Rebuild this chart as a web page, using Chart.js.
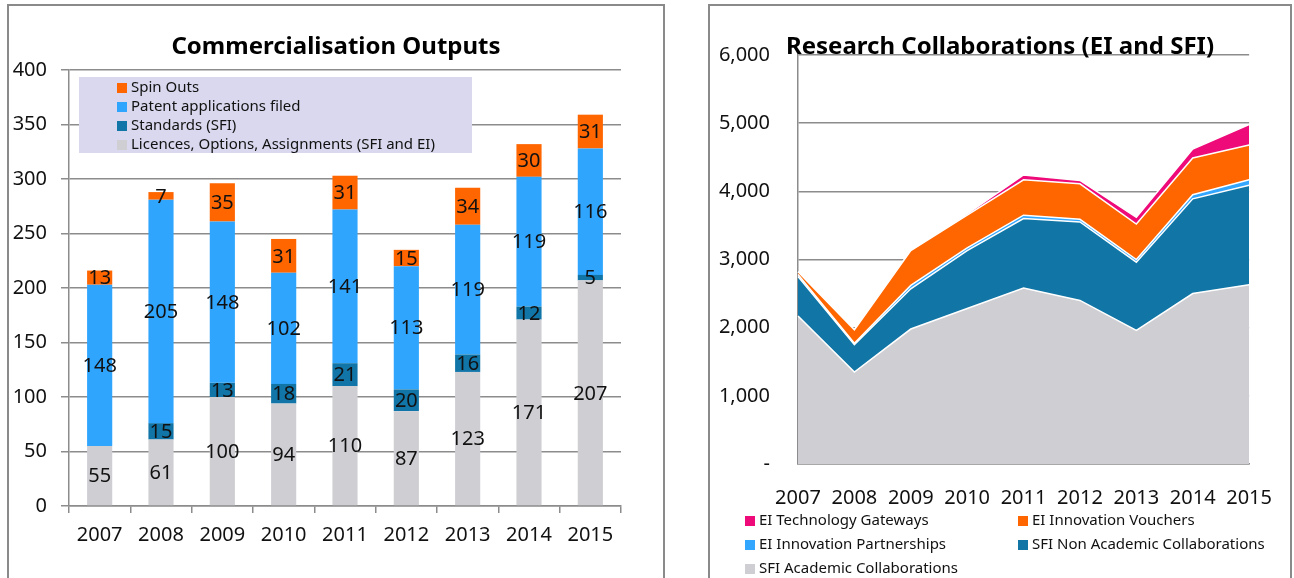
<!DOCTYPE html>
<html>
<head>
<meta charset="utf-8">
<script src="https://cdn.jsdelivr.net/npm/chart.js@4/dist/chart.umd.min.js"></script>
<style>
  body { margin: 0; width: 1294px; height: 578px; overflow: hidden; background: #fff; font-family: "Noto Sans", sans-serif; position: relative; }
  .panel { position: absolute; border: 2px solid #8a8a8a; box-sizing: border-box; }
  .wrap { position: absolute; top: 0; }
  .title { position: absolute; font-weight: bold; font-size: 24px; color: #000; white-space: nowrap; transform: translate(-50%, -50%); }
  .legend { position: absolute; font-size: 15px; color: #111; }
  .item { position: absolute; white-space: nowrap; height: 19px; line-height: 19px; }
  .mark { display: inline-block; width: 10px; height: 10px; margin-right: 4px; vertical-align: -0.5px; }
</style>
</head>
<body>
<div class="panel" style="left:7px; top:4px; width:658px; height:600px;"></div>
<div class="panel" style="left:708px; top:4px; width:584px; height:600px;"></div>

<div class="wrap" style="left:0px;"><canvas id="commChart" width="664" height="578"></canvas></div>
<div class="wrap" style="left:708px;"><canvas id="collabChart" width="586" height="578"></canvas></div>

<div class="title" style="left:336px; top:44px;">Commercialisation Outputs</div>
<div class="title" style="left:1000px; top:44px;">Research Collaborations (EI and SFI)</div>

<div id="commLegend" class="legend" style="left:79px; top:77px; width:393px; height:76px; background:#d9d8ee;"></div>
<div id="collabLegend" class="legend" style="left:0; top:0;"></div>

<script>
// Commercialisation outputs (left chart)
const years = ['2007', '2008', '2009', '2010', '2011', '2012', '2013', '2014', '2015'];
const licences = [55, 61, 100, 94, 110, 87, 123, 171, 207];
const standards = [0, 15, 13, 18, 21, 20, 16, 12, 5];
const patents = [148, 205, 148, 102, 141, 113, 119, 119, 116];
const spinOuts = [13, 7, 35, 31, 31, 15, 34, 30, 31];

// Research collaborations (right chart)
const sfiAcademic = [2170, 1350, 1980, 2280, 2580, 2400, 1960, 2500, 2630];
const sfiNonAcademic = [580, 400, 590, 850, 1020, 1150, 1000, 1390, 1460];
const eiPartnerships = [30, 20, 50, 40, 50, 40, 40, 60, 80];
const eiVouchers = [40, 200, 510, 480, 520, 520, 520, 540, 510];
const eiGateways = [0, 0, 0, 20, 70, 50, 100, 130, 300];

const FONT = '"Noto Sans", sans-serif';
const GRID = '#8c8c8c';

const barLabels = {
    id: 'barLabels',
    afterDatasetsDraw(chart) {
        const ctx = chart.ctx;
        ctx.save();
        ctx.font = '20px ' + FONT;
        ctx.fillStyle = '#111';
        ctx.textAlign = 'center';
        ctx.textBaseline = 'middle';
        chart.data.datasets.forEach((ds, i) => {
            chart.getDatasetMeta(i).data.forEach((bar, j) => {
                const v = ds.data[j];
                if (!v) return;
                ctx.fillText(String(v), bar.x, (bar.y + bar.base) / 2 + 1);
            });
        });
        ctx.restore();
    }
};

const commChart = new Chart(document.getElementById('commChart'), {
    type: 'bar',
    data: {
        labels: years,
        datasets: [
            { label: 'Licences, Options, Assignments (SFI and EI)', data: licences, backgroundColor: '#cfced3' },
            { label: 'Standards (SFI)', data: standards, backgroundColor: '#1175a8' },
            { label: 'Patent applications filed', data: patents, backgroundColor: '#30a5fe' },
            { label: 'Spin Outs', data: spinOuts, backgroundColor: '#ff6600' }
        ]
    },
    options: {
        responsive: false,
        devicePixelRatio: 1,
        animation: false,
        barPercentage: 0.41,
        categoryPercentage: 1,
        layout: { padding: { top: 70, right: 43, left: 0, bottom: 0 } },
        scales: {
            x: {
                stacked: true,
                grid: { drawOnChartArea: false, drawTicks: true, tickLength: 7, color: GRID, lineWidth: 1.5 },
                border: { display: true, color: GRID, width: 1.5 },
                ticks: { font: { family: FONT, size: 20 }, color: '#111', padding: 10 },
                afterFit: s => { s.height = 72; }
            },
            y: {
                stacked: true,
                min: 0,
                max: 400,
                grid: { drawTicks: true, tickLength: 8, color: GRID, lineWidth: 1.5 },
                border: { display: true, color: GRID, width: 1.5 },
                ticks: { stepSize: 50, font: { family: FONT, size: 20 }, color: '#111', padding: 14 },
                afterFit: s => { s.width = 69; }
            }
        },
        plugins: {
            legend: { display: false },
            title: { display: false },
            tooltip: { enabled: false }
        }
    },
    plugins: [barLabels]
});

const collabChart = new Chart(document.getElementById('collabChart'), {
    type: 'line',
    data: {
        labels: years,
        datasets: [
            { label: 'SFI Academic Collaborations', data: sfiAcademic, backgroundColor: '#cfced3', fill: 'origin' },
            { label: 'SFI Non Academic Collaborations', data: sfiNonAcademic, backgroundColor: '#1176a6', fill: '-1' },
            { label: 'EI Innovation Partnerships', data: eiPartnerships, backgroundColor: '#33a6ff', fill: '-1' },
            { label: 'EI Innovation Vouchers', data: eiVouchers, backgroundColor: '#ff6600', fill: '-1' },
            { label: 'EI Technology Gateways', data: eiGateways, backgroundColor: '#ee0a78', fill: '-1' }
        ].map(ds => Object.assign(ds, { borderColor: '#ffffff', borderWidth: 1.5, pointRadius: 0, tension: 0 }))
    },
    options: {
        responsive: false,
        devicePixelRatio: 1,
        animation: false,
        layout: { padding: { top: 55, right: 41, left: 0, bottom: 0 } },
        scales: {
            x: {
                grid: { drawOnChartArea: false, drawTicks: false },
                border: { display: true, color: GRID, width: 1.5 },
                ticks: { font: { family: FONT, size: 20 }, color: '#111', padding: 22, maxRotation: 0 },
                afterFit: s => { s.height = 114; }
            },
            y: {
                stacked: true,
                min: 0,
                max: 6000,
                grid: { drawTicks: false, color: GRID, lineWidth: 1.5 },
                border: { display: true, color: GRID, width: 1.5 },
                ticks: {
                    stepSize: 1000,
                    font: { family: FONT, size: 20 },
                    color: '#111',
                    padding: 28,
                    callback: v => v === 0 ? '-' : v.toLocaleString('en-US')
                },
                afterFit: s => { s.width = 90; }
            }
        },
        plugins: {
            legend: { display: false },
            title: { display: false },
            tooltip: { enabled: false },
            filler: { propagate: false }
        }
    }
});

// HTML legends
function addItem(box, ds, x, y) {
    const el = document.createElement('div');
    el.className = 'item';
    el.style.left = x + 'px';
    el.style.top = y + 'px';
    el.innerHTML = '<span class="mark" style="background:' + ds.backgroundColor + '"></span>' + ds.label;
    box.appendChild(el);
}

const commBox = document.getElementById('commLegend');
commChart.data.datasets.slice().reverse().forEach((ds, i) => addItem(commBox, ds, 38, i * 19));

const collabBox = document.getElementById('collabLegend');
const cds = collabChart.data.datasets;
const spots = [
    [cds[4], 745, 510], [cds[3], 1018, 510],
    [cds[2], 745, 534], [cds[1], 1018, 534],
    [cds[0], 745, 558]
];
spots.forEach(s => addItem(collabBox, s[0], s[1], s[2]));
</script>
</body>
</html>
